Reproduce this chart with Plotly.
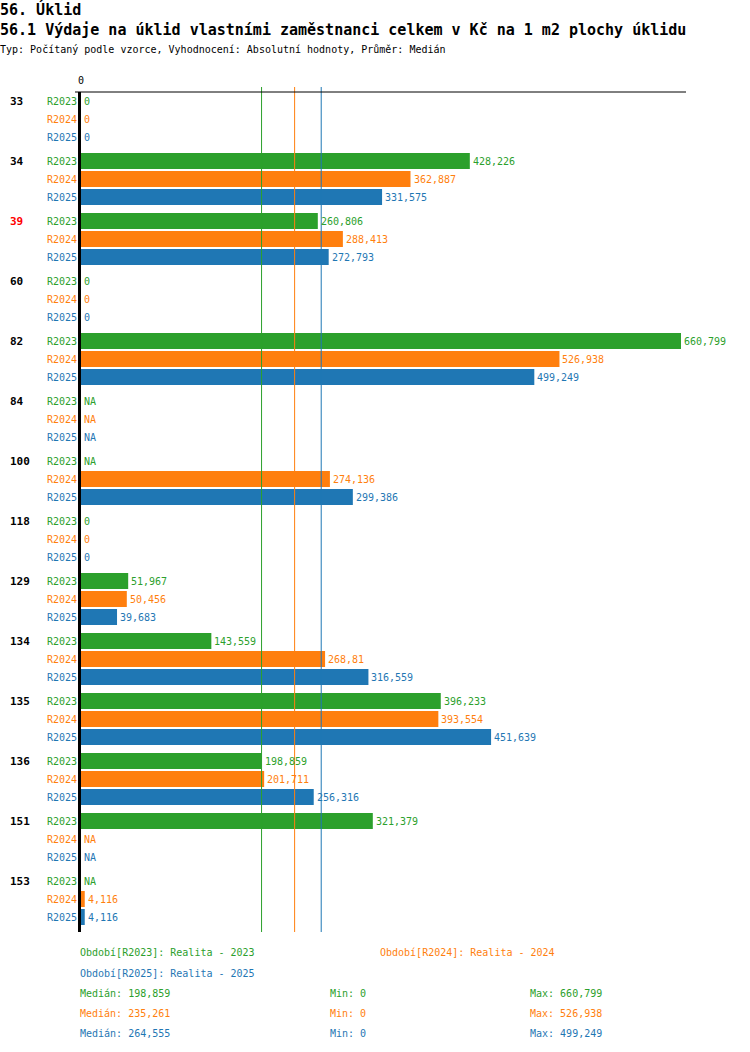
import numpy as np
import plotly.graph_objects as go

# data (values in Kč per m2, Czech decimal comma)
groups = ['33', '34', '39', '60', '82', '84', '100', '118', '129', '134', '135', '136', '151', '153']
periods = ['R2023', 'R2024', 'R2025']
r2023 = [0, 428.226, 260.806, 0, 660.799, None, None, 0, 51.967, 143.559, 396.233, 198.859, 321.379, None]
r2024 = [0, 362.887, 288.413, 0, 526.938, None, 274.136, 0, 50.456, 268.81, 393.554, 201.711, None, 4.116]
r2025 = [0, 331.575, 272.793, 0, 499.249, None, 299.386, 0, 39.683, 316.559, 451.639, 256.316, None, 4.116]
period_names = ['Realita - 2023', 'Realita - 2024', 'Realita - 2025']
highlight = '39'

COLORS = ['#2ca02c', '#ff7f0e', '#1f77b4']
FONT = 'DejaVu Sans Mono'
W, H = 750, 1052
L, R, T, B = 81, 64, 92, 120
PW, PH = W - L - R, H - T - B


def fmt(v):
    if v is None:
        return 'NA'
    s = f'{round(v + 1e-9, 3):.3f}'.rstrip('0').rstrip('.')
    return s.replace('.', ',')


def px(x):
    return (x - L) / PW


def py(y):
    return (H - B - y) / PH


series = [r2023, r2024, r2025]
fig = go.Figure()
annotations = []
NOPAD = dict(borderpad=0, borderwidth=0, showarrow=False, yanchor='middle')

for j, (name, vals) in enumerate(zip(periods, series)):
    ypos = [i * 10 + j * 3 for i in range(len(groups))]
    fig.add_trace(go.Bar(
        x=[np.nan if v is None else v for v in vals],
        y=ypos,
        orientation='h',
        width=16 / 6,
        marker=dict(color=COLORS[j], line=dict(width=0)),
        name=name,
        hoverinfo='x+name',
    ))
    for v, yy in zip(vals, ypos):
        annotations.append(dict(
            x=0 if v is None else v, y=yy, xref='x', yref='y',
            text=fmt(v), xanchor='left', xshift=3,
            font=dict(family=FONT, size=10, color=COLORS[j]), **NOPAD))
        annotations.append(dict(
            x=0, y=yy, xref='paper', yref='y', text=name,
            xanchor='right', xshift=-4,
            font=dict(family=FONT, size=10, color=COLORS[j]), **NOPAD))

for i, g in enumerate(groups):
    annotations.append(dict(
        x=px(10), y=i * 10, xref='paper', yref='y', text='<b>' + g + '</b>',
        xanchor='left',
        font=dict(family=FONT, size=11, color='red' if g == highlight else 'black'), **NOPAD))

# median lines
medians = [np.nanmedian([np.nan if v is None else v for v in s]) for s in series]
mins = [np.nanmin([np.nan if v is None else v for v in s]) for s in series]
maxs = [np.nanmax([np.nan if v is None else v for v in s]) for s in series]
shapes = []
for j, m in enumerate(medians):
    shapes.append(dict(type='line', xref='x', yref='paper', x0=m, x1=m,
                       y0=0, y1=1 + 5 / PH, line=dict(color=COLORS[j], width=1)))
shapes.append(dict(type='line', xref='paper', yref='paper', x0=px(75), x1=1,
                   y0=1, y1=1, line=dict(color='black', width=1)))


def text_at(x, y, text, size=10, color='black'):
    annotations.append(dict(x=px(x), y=py(y), xref='paper', yref='paper', text=text,
                            xanchor='left',
                            font=dict(family=FONT, size=size, color=color), **NOPAD))


# titles
text_at(0, 9.5, '<b>56. Úklid</b>', 15)
text_at(0, 30, '<b>56.1 Výdaje na úklid vlastními zaměstnanci celkem v Kč na 1 m2 plochy úklidu</b>', 15)
text_at(0, 50, 'Typ: Počítaný podle vzorce, Vyhodnocení: Absolutní hodnoty, Průměr: Medián')

# footer legend and stats
legend_pos = [(80, 953), (380, 953), (80, 973)]
for j, (name, pname) in enumerate(zip(periods, period_names)):
    xx, yy = legend_pos[j]
    text_at(xx, yy, f'Období[{name}]: {pname}', color=COLORS[j])
    yy = 993 + 20 * j
    for xx, lab, v in [(80, 'Medián', medians[j]), (330, 'Min', mins[j]), (530, 'Max', maxs[j])]:
        text_at(xx, yy, f'{lab}: {fmt(float(v))}', color=COLORS[j])

xmax = max(maxs) * PW / 600
nrows = (len(groups) - 1) * 10 + 6
fig.update_layout(
    width=W, height=H,
    margin=dict(l=L, r=R, t=T, b=B, pad=0),
    plot_bgcolor='white', paper_bgcolor='white',
    barmode='overlay', showlegend=False,
    annotations=annotations, shapes=shapes,
    font=dict(family=FONT, size=10, color='black'),
)
fig.update_xaxes(range=[0, xmax], side='top', tickvals=[0], ticktext=['0'], ticks='',
                 ticklabelstandoff=5,
                 showgrid=False, zeroline=False, showline=False,
                 tickfont=dict(family=FONT, size=10, color='black'))
fig.update_yaxes(range=[nrows + 2.5, -1.5], showticklabels=False, ticks='', showgrid=False,
                 zeroline=False, showline=True, linecolor='black', linewidth=3)

fig.write_html('out.html', config={'displayModeBar': False},
               post_script="document.body.style.margin='0';")
